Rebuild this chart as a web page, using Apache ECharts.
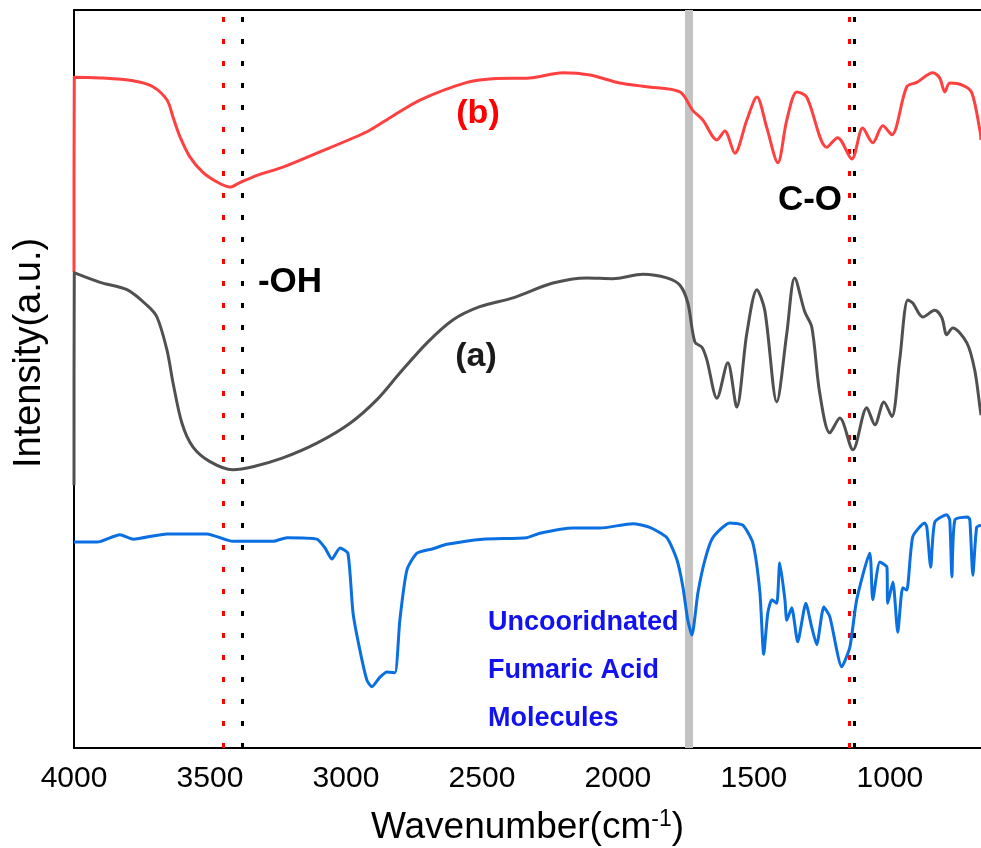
<!DOCTYPE html>
<html>
<head>
<meta charset="utf-8">
<script src="https://cdn.jsdelivr.net/npm/echarts@6/dist/echarts.min.js"></script>
<style>
html,body{margin:0;padding:0;background:#fff;}
#chart{width:981px;height:848px;}
</style>
</head>
<body>
<div id="chart"></div>
<script>
// Wavenumber tick labels
const xTicks = [4000, 3500, 3000, 2500, 2000, 1500, 1000];

// (b) red spectrum
const wnB = [4000, 3999, 3904, 3783, 3710, 3658, 3636, 3610, 3574, 3526, 3474, 3427, 3390, 3327, 3232, 3107, 2923, 2838, 2728, 2555, 2460, 2324, 2202, 2103, 1993, 1894, 1772, 1725, 1688, 1636, 1607, 1570, 1526, 1489, 1453, 1412, 1379, 1342, 1306, 1232, 1192, 1140, 1100, 1063, 1026, 993, 938, 901, 842, 817, 798, 780, 732, 699, 669, 665];
const valB = [64.5, 90.9, 90.8, 90.4, 89.6, 87.8, 85.5, 82.8, 80.1, 78.0, 76.7, 76.0, 76.6, 77.6, 78.7, 80.6, 83.5, 85.4, 87.8, 90.2, 90.7, 90.8, 91.5, 91.2, 90.1, 89.6, 88.9, 86.4, 85.1, 82.4, 83.6, 80.6, 85.1, 88.2, 84.1, 79.3, 85.1, 88.9, 88.2, 81.4, 82.7, 79.8, 84.0, 82.0, 84.3, 83.1, 89.6, 90.2, 91.5, 90.8, 88.9, 90.1, 89.8, 88.8, 83.7, 82.4];

// (a) gray spectrum
const wnA = [4000, 3999, 3904, 3805, 3732, 3695, 3658, 3636, 3603, 3563, 3500, 3416, 3342, 3232, 3107, 2985, 2886, 2802, 2702, 2607, 2508, 2386, 2239, 2114, 2019, 1908, 1820, 1772, 1743, 1717, 1691, 1673, 1636, 1596, 1563, 1526, 1489, 1460, 1416, 1379, 1350, 1313, 1287, 1258, 1221, 1184, 1136, 1085, 1055, 1022, 993, 964, 934, 916, 879, 835, 809, 791, 769, 717, 688, 669, 665];
const valA = [35.6, 64.4, 63.1, 62.1, 60.0, 58.4, 53.9, 49.5, 44.0, 40.8, 38.8, 37.7, 38.1, 39.3, 41.3, 44.0, 47.2, 50.8, 54.9, 58.0, 59.8, 61.0, 63.0, 63.7, 63.6, 64.2, 63.7, 62.7, 60.3, 55.0, 54.3, 52.6, 47.4, 52.2, 46.2, 56.2, 62.1, 59.3, 46.9, 56.2, 63.7, 59.1, 57.0, 48.1, 42.7, 44.7, 40.4, 46.1, 43.8, 46.9, 44.9, 52.6, 60.7, 60.3, 58.4, 59.3, 58.3, 56.0, 56.9, 54.9, 51.2, 46.2, 45.1];

// Uncoordinated fumaric acid (blue)
const wnC = [4000, 3915, 3831, 3783, 3658, 3511, 3416, 3268, 3217, 3107, 3077, 3052, 3022, 2993, 2974, 2949, 2923, 2905, 2875, 2849, 2820, 2802, 2776, 2739, 2680, 2629, 2497, 2335, 2287, 2166, 2066, 1945, 1883, 1820, 1783, 1761, 1743, 1728, 1706, 1680, 1651, 1589, 1541, 1504, 1478, 1464, 1449, 1434, 1416, 1405, 1386, 1379, 1361, 1339, 1309, 1287, 1269, 1243, 1221, 1177, 1147, 1122, 1074, 1063, 1037, 1011, 1008, 989, 971, 953, 938, 916, 872, 864, 850, 835, 791, 780, 772, 761, 714, 706, 695, 681, 665];
const valC = [27.9, 27.9, 28.9, 28.3, 29.0, 29.0, 28.0, 28.0, 28.5, 28.3, 27.1, 25.6, 27.1, 26.4, 18.3, 13.3, 9.2, 8.3, 9.6, 10.3, 10.2, 17.3, 24.1, 26.4, 27.0, 27.6, 28.3, 28.5, 29.1, 29.8, 29.8, 30.4, 29.9, 28.5, 25.5, 21.8, 17.3, 15.3, 21.0, 25.5, 28.5, 30.5, 30.2, 27.8, 21.1, 12.7, 18.3, 20.1, 19.6, 25.1, 20.1, 17.3, 19.0, 14.4, 19.6, 16.3, 14.0, 19.1, 17.8, 11.0, 13.7, 20.1, 26.4, 20.1, 25.2, 24.5, 19.6, 22.5, 15.7, 21.7, 21.4, 28.6, 30.5, 29.9, 24.5, 30.6, 31.6, 30.9, 23.2, 30.9, 31.3, 30.9, 23.4, 29.9, 30.2];

// Reference lines (wavenumbers)
const redLines = [3450, 1150];
const blackLines = [3380, 1130];
const bandLine = [1740];

const FONT = "'Liberation Sans', Arial, sans-serif";
const zip = (xs, ys) => xs.map((x, i) => [x, ys[i]]);

const chart = echarts.init(document.getElementById('chart'), null, {renderer: 'canvas'});

const markData = [];
bandLine.forEach(v => markData.push({xAxis: v, lineStyle: {color: '#c3c3c3', width: 8, type: 'solid'}}));
redLines.forEach(v => markData.push({xAxis: v, lineStyle: {color: '#ff0000', width: 3, type: [5, 17]}}));
blackLines.forEach(v => markData.push({xAxis: v, lineStyle: {color: '#000000', width: 3, type: [5, 17]}}));

const xCommon = {
  type: 'value', min: 665, max: 4000, inverse: true,
  splitLine: {show: false}
};

chart.setOption({
  animation: false,
  backgroundColor: '#ffffff',
  grid: {left: 74, right: 0, top: 10, bottom: 100, containLabel: false, outerBoundsMode: 'none'},
  xAxis: [
    Object.assign({}, xCommon, {
      position: 'bottom',
      axisLine: {show: true, onZero: false, lineStyle: {color: '#000', width: 2}},
      axisTick: {show: false},
      axisLabel: {show: true, customValues: xTicks, margin: 16, color: '#000', fontSize: 30, fontFamily: FONT,
        formatter: v => String(v)},
      name: 'Wavenumber(cm{sup|-1})',
      nameLocation: 'middle',
      nameGap: 60,
      nameTextStyle: {
        color: '#000', fontSize: 37, fontFamily: FONT, lineHeight: 40,
        rich: {sup: {fontSize: 23, fontFamily: FONT, color: '#000', verticalAlign: 'top', lineHeight: 23, padding: [0, 0, 14, 0]}}
      }
    }),
    Object.assign({}, xCommon, {
      position: 'top',
      axisLine: {show: true, onZero: false, lineStyle: {color: '#000', width: 2}},
      axisTick: {show: false},
      axisLabel: {show: false}
    })
  ],
  yAxis: {
    type: 'value', min: 0, max: 100,
    axisLine: {show: true, onZero: false, lineStyle: {color: '#000', width: 2}},
    axisTick: {show: false},
    axisLabel: {show: false},
    splitLine: {show: false}
  },
  series: [
    {
      type: 'line', data: [], z: 1, silent: true,
      markLine: {z: 1, silent: true, symbol: ['none', 'none'], label: {show: false}, animation: false, data: markData}
    },
    {
      name: '(b)', type: 'line', data: zip(wnB, valB), showSymbol: false, smooth: 0.3, z: 3,
      lineStyle: {color: '#ff4040', width: 3, join: 'round'}
    },
    {
      name: '(a)', type: 'line', data: zip(wnA, valA), showSymbol: false, smooth: 0.3, z: 3,
      lineStyle: {color: '#505050', width: 3, join: 'round'}
    },
    {
      name: 'Fumaric acid', type: 'line', data: zip(wnC, valC), showSymbol: false, smooth: 0.2, z: 3,
      lineStyle: {color: '#0a6fe0', width: 3, join: 'round'}
    }
  ],
  graphic: [
    {type: 'text', x: 478, y: 114, z: 10, style: {text: '(b)', fill: '#ff0000', font: 'bold 34px ' + FONT, align: 'center', verticalAlign: 'middle'}},
    {type: 'text', x: 290, y: 282, z: 10, style: {text: '-OH', fill: '#000', font: 'bold 35px ' + FONT, align: 'center', verticalAlign: 'middle'}},
    {type: 'text', x: 476, y: 357, z: 10, style: {text: '(a)', fill: '#1a1a1a', font: 'bold 34px ' + FONT, align: 'center', verticalAlign: 'middle'}},
    {type: 'text', x: 810, y: 200, z: 10, style: {text: 'C-O', fill: '#000', font: 'bold 35px ' + FONT, align: 'center', verticalAlign: 'middle'}},
    {type: 'text', x: 488, y: 623, z: 10, style: {text: 'Uncooridnated', fill: '#1212f0', font: 'bold 27px ' + FONT, align: 'left', verticalAlign: 'middle'}},
    {type: 'text', x: 488, y: 671, z: 10, style: {text: 'Fumaric Acid', fill: '#1212f0', font: 'bold 27px ' + FONT, align: 'left', verticalAlign: 'middle'}},
    {type: 'text', x: 488, y: 719, z: 10, style: {text: 'Molecules', fill: '#1212f0', font: 'bold 27px ' + FONT, align: 'left', verticalAlign: 'middle'}},
    {type: 'text', x: 30, y: 353, rotation: Math.PI / 2, z: 10, style: {text: 'Intensity(a.u.)', fill: '#000', font: '38px ' + FONT, align: 'center', verticalAlign: 'middle'}}
  ]
});
</script>
</body>
</html>
